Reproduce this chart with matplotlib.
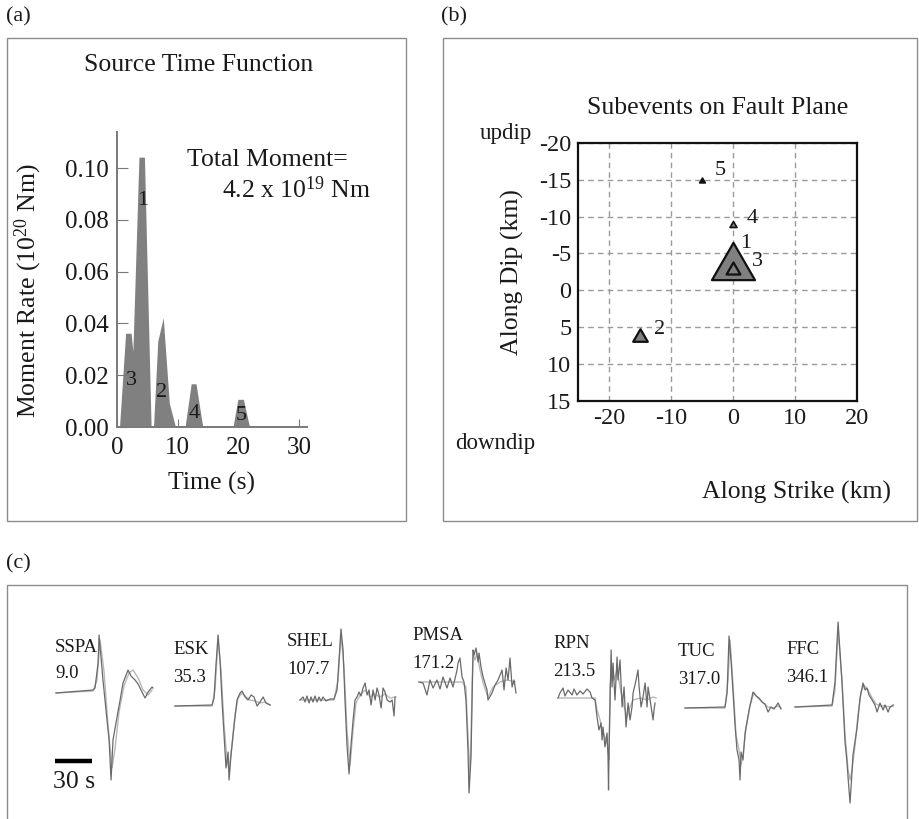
import numpy as np
import matplotlib
matplotlib.use('Agg')
import matplotlib.pyplot as plt
from matplotlib.patches import Rectangle
from matplotlib.path import Path

plt.rcParams['font.family'] = ['Liberation Serif', 'DejaVu Serif']
plt.rcParams['mathtext.fontset'] = 'custom'
plt.rcParams['mathtext.rm'] = 'Liberation Serif'
plt.rcParams['mathtext.it'] = 'Liberation Serif:italic'
plt.rcParams['axes.unicode_minus'] = False

W, H = 919, 819  # output size in pixels

# ---- (a) source time function ----
stf_time = [0.0, 0.5, 1.5, 2.4, 2.7, 3.7, 4.6, 5.7, 6.1, 6.8, 7.7, 8.7, 9.7,
            11.3, 12.3, 13.1, 14.2, 19.2, 20.0, 20.9, 21.9, 30.0]
stf_rate = [0.0, 0.0, 0.036, 0.036, 0.029, 0.104, 0.104, 0.0, 0.0, 0.033, 0.042, 0.009, 0.0,
            0.0, 0.0165, 0.0165, 0.0, 0.0, 0.0105, 0.0105, 0.0, 0.0]
stf_label = ['1', '3', '2', '4', '5']
stf_label_t = [4.3, 2.3, 7.4, 12.7, 20.5]
stf_label_v = [0.0876, 0.018, 0.0135, 0.0054, 0.0046]

# ---- (b) subevents on fault plane ----
sub_id = ['1', '3', '2', '4', '5']
sub_strike = [0, 0, -15, 0, -5]
sub_dip = [-4, -3, 6, -9, -15]
sub_width = [31, 10, 10.5, 5, 4]          # marker width (pt)
sub_label_x = [2.0, 3.9, -11.9, 3.1, -2.0]
sub_label_y = [-6.4, -3.9, 5.3, -9.75, -16.2]

# ---- (c) waveforms: (time s, relative amplitude) ----
stations = ['SSPA', 'ESK', 'SHEL', 'PMSA', 'RPN', 'TUC', 'FFC']
azimuths = ['9.0', '35.3', '107.7', '171.2', '213.5', '317.0', '346.1']

sspa_obs = [(0, 0), (30.3, 3), (31.9, 5), (34.4, 30), (35.2, 58), (38.4, 13), (41.7, -27),
            (43.4, -47), (45.0, -87), (46.6, -47), (49.9, -24), (52.4, -7), (54.8, 10),
            (58.9, 23), (61.3, 17), (64.6, 13), (67.1, 9), (70.3, 1), (72.8, -5), (75.3, 1),
            (78.5, 6), (79.3, 5)]
sspa_syn = [(0, 0), (30.3, 2), (33.5, 13), (36.0, 53), (39.3, 21), (42.5, -32), (45.8, -75),
            (48.3, -55), (51.5, -19), (55.6, 7), (59.7, 20), (63.0, 23), (67.1, 15),
            (71.2, 3), (75.3, -2), (78.5, 3)]
esk_obs = [(0, 0), (30.3, 1), (31.9, 8), (33.5, 41), (35.2, 71), (36.8, 46), (38.4, 6),
           (40.1, -29), (41.7, -62), (43.4, -46), (44.2, -74), (45.8, -49), (48.3, -19),
           (50.7, 6), (53.2, 13), (54.8, 15), (57.3, 9), (59.7, 6), (62.2, 11), (64.6, 9),
           (67.1, 0), (69.5, 4), (72.0, 9), (74.4, 3), (77.7, 1)]
esk_syn = [(0, 0), (30.3, 0), (32.7, 16), (35.2, 66), (37.6, 36), (40.1, -19), (42.5, -54),
           (44.2, -64), (46.6, -39), (49.1, -9), (51.5, 8), (54.8, 13), (58.1, 9),
           (61.4, 6), (65.4, 5), (69.5, 3), (73.6, 4), (77.7, 1)]
shel_obs = [(0, 0), (2.5, 3), (4.1, -2), (5.7, 4), (7.4, -3), (9.0, 3), (10.6, -2), (12.3, 4),
            (13.9, -2), (15.5, 3), (17.2, -1), (18.8, 3), (21.3, -1), (24.5, 1), (27.8, 1),
            (30.3, 10), (31.9, 40), (33.5, 71), (35.2, 50), (36.8, 0), (38.4, -45),
            (40.1, -74), (41.7, -45), (43.4, -20), (45.0, 0), (46.6, 3), (48.3, 8), (49.9, 4),
            (51.5, 12), (53.2, 17), (54.8, 5), (56.4, 10), (58.1, -5), (59.7, 10), (61.4, 0),
            (63.0, 12), (64.6, 5), (66.3, -8), (67.9, 12), (69.5, 8), (71.2, 0), (73.6, -2),
            (75.3, 0), (76.9, -16), (77.7, 3)]
shel_syn = [(0, 0), (27.8, 0), (31.1, 20), (33.5, 65), (36.0, 32), (38.4, -30), (40.9, -65),
            (43.4, -30), (45.8, -3), (49.1, 5), (53.2, 10), (57.3, 3), (61.4, 6), (65.4, 3),
            (69.5, 6), (73.6, 2), (78.5, 3)]
pmsa_obs = [(0, 0), (3.3, -1), (6.5, -13), (9.0, 2), (11.5, -6), (14.7, 2), (17.2, -7),
            (19.6, 5), (22.9, -6), (25.4, 4), (27.8, -5), (31.1, 12), (31.9, 19), (33.5, 24),
            (35.2, 5), (36.8, 0), (38.4, -18), (39.3, -45), (40.1, -71), (40.9, -111),
            (42.5, -75), (43.4, -18), (44.2, 32), (45.0, 27), (46.6, 34), (48.3, 20),
            (49.1, 29), (50.7, 15), (52.4, 5), (55.6, -8), (56.4, -18), (59.7, -11),
            (62.2, -3), (64.6, 2), (67.9, 12), (69.5, -8), (71.2, 14), (72.8, 2), (74.4, 24),
            (76.1, -5), (77.7, 2), (79.3, -11)]
pmsa_syn = [(0, 0), (35.2, 0), (38.4, -5), (39.3, -35), (40.9, -75), (41.7, -91), (42.5, -61),
            (43.4, -1), (44.2, 29), (45.8, 22), (47.4, 29), (49.9, 12), (52.4, -1),
            (56.4, -15), (60.5, -5), (66.3, 0), (72.0, 2), (78.5, 0)]
rpn_obs = [(0, 0), (1.6, 5), (4.1, 10), (5.7, 2), (8.2, 8), (11.5, 3), (13.1, 9), (15.5, 3),
           (18.0, 7), (20.5, 4), (23.7, 9), (26.2, 6), (27.8, 0), (30.3, -2), (31.9, -19),
           (33.5, -32), (35.2, -25), (36.0, -42), (36.8, -29), (38.4, -49), (40.1, -35),
           (40.9, -59), (41.3, -92), (41.7, -55), (43.4, 48), (44.2, 11), (45.0, 35),
           (46.6, -2), (48.3, 41), (49.1, 18), (50.7, 38), (52.4, -9), (54.0, 11),
           (55.6, -29), (57.3, -5), (58.9, -22), (60.5, -9), (61.4, 5), (63.8, 18),
           (65.4, 28), (66.3, 11), (67.9, -9), (69.5, 1), (71.2, 15), (72.8, -9), (73.6, 11),
           (75.3, -2), (77.7, -22), (78.5, -12), (79.3, -5)]
rpn_syn = [(0, 0), (30.3, 0), (31.9, -12), (34.4, -22), (36.8, -35), (39.3, -42), (40.9, -49),
           (41.7, -62), (42.5, 11), (44.2, 31), (45.8, 18), (48.3, 28), (50.7, 11),
           (53.2, -5), (56.4, -19), (58.9, -9), (61.4, -2), (67.1, 0), (72.8, -2), (77.7, 1),
           (80.2, 0)]
tuc_obs = [(0, 0), (32.7, 1), (34.4, 15), (36.0, 72), (37.6, 48), (39.3, 15), (40.9, -17),
           (42.5, -42), (44.2, -52), (45.0, -72), (45.8, -44), (47.4, -52), (49.1, -25),
           (52.4, -2), (55.6, 16), (58.1, 12), (60.5, 10), (63.0, 6), (65.4, 4), (67.9, -4),
           (70.3, 1), (72.8, -1), (76.1, 5), (78.5, -1)]
tuc_syn = [(0, 0), (32.7, 0), (35.2, 28), (36.8, 68), (39.3, 23), (41.7, -27), (44.2, -42),
           (45.8, -57), (47.4, -47), (49.9, -20), (53.2, 3), (56.4, 15), (59.7, 10),
           (63.8, 5), (67.9, 1), (72.0, 0), (76.1, 2), (78.5, 0)]
ffc_obs = [(0, 0), (30.3, 2), (32.7, 25), (35.2, 85), (38.4, 25), (40.9, -35), (42.5, -55),
           (43.4, -71), (45.0, -96), (46.6, -65), (47.4, -48), (50.7, -21), (53.2, 9),
           (55.6, 24), (57.3, 17), (58.9, 19), (60.5, 12), (63.0, 7), (65.4, 2), (67.1, -5),
           (69.5, 4), (72.0, -3), (73.6, 2), (76.1, -5), (77.7, 0), (80.2, 2)]
ffc_syn = [(0, 0), (30.3, 1), (32.7, 17), (35.2, 77), (38.4, 27), (40.9, -28), (43.4, -63),
           (45.0, -73), (46.6, -63), (49.1, -38), (51.5, -8), (54.0, 15), (56.4, 22),
           (59.7, 17), (63.0, 9), (66.3, 3), (69.5, 1), (73.6, 1), (77.7, 0), (80.2, 1)]

observed = [sspa_obs, esk_obs, shel_obs, pmsa_obs, rpn_obs, tuc_obs, ffc_obs]
synthetic = [sspa_syn, esk_syn, shel_syn, pmsa_syn, rpn_syn, tuc_syn, ffc_syn]

# layout of panel (c), in pixels of the output picture
trace_x0 = [56, 175, 300, 419, 558, 685, 795]
trace_y0 = [693, 706, 700, 682, 698, 708, 707]
name_x = [55, 173, 287, 412, 553, 678, 786]
name_y = [647, 650, 641, 636, 644, 651, 649]
azi_y = [674, 678, 669, 664, 671, 679, 678]
SEC_PER_PX = 30 / 36.7


def fx(px):
    return px / W


def fy(py):
    return 1 - py / H


def ftxt(px, py, s, **kw):
    kw.setdefault('va', 'center')
    kw.setdefault('color', '#1a1a1a')
    fig.text(fx(px), fy(py), s, **kw)


fig = plt.figure(figsize=(W / 100, H / 100), dpi=100)

# panel frames
for (x0, y0, x1, y1) in [(7, 38, 406, 521), (443, 38, 917, 521), (7, 585, 907, 824)]:
    fig.add_artist(Rectangle((fx(x0), fy(y1)), fx(x1) - fx(x0), fy(y0) - fy(y1),
                             transform=fig.transFigure, fill=False, ec='#8c8c8c', lw=1.0))

ftxt(6, 17, '(a)', fontsize=16)
ftxt(441, 17, '(b)', fontsize=16)
ftxt(6, 564, '(c)', fontsize=16)

# ---------- (a) ----------
axa = fig.add_axes([fx(117), fy(427), fx(307) - fx(117), fy(132) - fy(427)])
axa.fill(stf_time, stf_rate, color='#808080', lw=0)
axa.plot([0, 30], [0, 0], color='#808080', lw=1.2)
axa.set_xlim(0, 31.3)
axa.set_ylim(0, 0.1139)
axa.set_xticks([0, 10, 20, 30])
axa.set_yticks([0, 0.02, 0.04, 0.06, 0.08, 0.10])
axa.set_yticklabels(['0.00', '0.02', '0.04', '0.06', '0.08', '0.10'])
for s in ['top', 'right']:
    axa.spines[s].set_visible(False)
for s in ['left', 'bottom']:
    axa.spines[s].set_color('#7a7a7a')
    axa.spines[s].set_linewidth(1.4)
axa.tick_params(axis='y', direction='in', length=8, color='#7a7a7a', labelsize=18,
                labelcolor='#1a1a1a', pad=6)
axa.tick_params(axis='x', direction='in', length=6, color='#7a7a7a', labelsize=18,
                labelcolor='#1a1a1a', pad=7)
axa.patch.set_alpha(0)
for lab, t, v in zip(stf_label, stf_label_t, stf_label_v):
    axa.text(t, v, lab, fontsize=16, ha='center', va='center', color='#1a1a1a')

ftxt(199, 65, 'Source Time Function', ha='center', fontsize=18.5)
ftxt(187, 160, 'Total Moment=', ha='left', fontsize=18.5)
ftxt(222, 190, r'4.2 x 10$^{\mathrm{19}}$ Nm', ha='left', fontsize=18.5)
ftxt(28, 291, r'Moment Rate (10$^{\mathrm{20}}$ Nm)', ha='center', rotation=90, fontsize=18.5)
ftxt(212, 483, 'Time (s)', ha='center', fontsize=18.5)

# ---------- (b) ----------
axb = fig.add_axes([fx(578.3), fy(401), fx(856.7) - fx(578.3), fy(142.7) - fy(401)])
axb.set_xlim(-25, 20)
axb.set_ylim(15, -20)
axb.set_xticks([-20, -10, 0, 10, 20])
axb.set_yticks([-20, -15, -10, -5, 0, 5, 10, 15])
axb.set_axisbelow(True)
axb.grid(True, ls=(0, (4, 3)), color='#9a9a9a', lw=1.0)
for s in axb.spines.values():
    s.set_color('#111111')
    s.set_linewidth(1.6)
axb.tick_params(length=0, labelsize=17.5, labelcolor='#1a1a1a', pad=5)

tri = Path([(-1, -0.866), (1, -0.866), (0, 0.866), (-1, -0.866)], closed=True)
for sid, xs, yd, w in zip(sub_id, sub_strike, sub_dip, sub_width):
    face = '#111111' if sid == '5' else '#808080'
    axb.plot(xs, yd, marker=tri, ms=w, mfc=face, mec='#111111',
             mew=1.6 if w > 8 else 1.2, ls='none', zorder=3)
for sid, lx, ly in zip(sub_id, sub_label_x, sub_label_y):
    axb.text(lx, ly, sid, fontsize=16, ha='center', va='center', color='#1a1a1a', zorder=4)

ftxt(718, 108, 'Subevents on Fault Plane', ha='center', fontsize=18.5)
ftxt(505.5, 133, 'updip', ha='center', fontsize=16.5)
ftxt(495, 443, 'downdip', ha='center', fontsize=16.5)
ftxt(797, 492, 'Along Strike (km)', ha='center', fontsize=18.5)
ftxt(512, 272, 'Along Dip (km)', ha='center', rotation=90, fontsize=18.5)

# ---------- (c) ----------
axc = fig.add_axes([fx(7), fy(824), fx(907) - fx(7), fy(585) - fy(824)])
axc.set_xlim(0, 900 * SEC_PER_PX)
axc.set_ylim(-(824 - 585), 0)
axc.axis('off')
for obs, syn, x0, y0 in zip(observed, synthetic, trace_x0, trace_y0):
    t_off = (x0 - 7) * SEC_PER_PX
    base = -(y0 - 585)
    ts, a_s = np.array(syn).T
    to, a_o = np.array(obs).T
    axc.plot(ts + t_off, a_s + base, color='#b8b8b8', lw=1.0)
    axc.plot(to + t_off, a_o + base, color='#6a6a6a', lw=0.9)

for st, az, nx, ny, ay in zip(stations, azimuths, name_x, name_y, azi_y):
    ftxt(nx, ny, st, ha='left', fontsize=13.5)
    ftxt(nx, ay, az, ha='left', fontsize=13.5)

bar_t0 = (55 - 7) * SEC_PER_PX
axc.plot([bar_t0, bar_t0 + 30], [-(761 - 585)] * 2, color='black', lw=3.2, solid_capstyle='butt')
ftxt(53, 782, '30 s', ha='left', fontsize=18.5)

fig.savefig('out.png', dpi=100)
